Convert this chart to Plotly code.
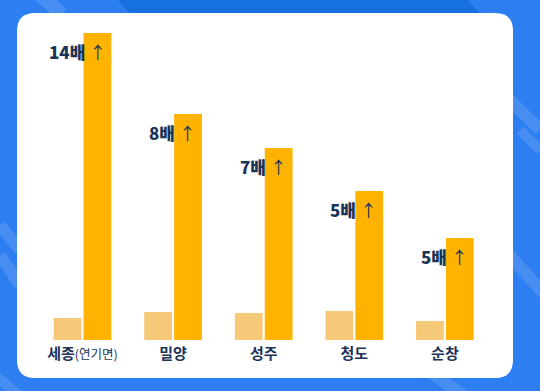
import plotly.graph_objects as go

# ---- data ----
categories = ["세종(연기면)", "밀양", "성주", "청도", "순창"]
tick_labels = [
    "<b>세종</b><span style='font-size:12.5px;font-weight:normal'>(연기면)</span>",
    "<b>밀양</b>", "<b>성주</b>", "<b>청도</b>", "<b>순창</b>",
]
before_values = [22, 28, 27, 29, 19]
after_values = [307, 226, 192, 149, 102]
ratio_numbers = ["14배", "8배", "7배", "5배", "5배"]

W, H = 540, 391
BASE = 340  # baseline pixel row
ML, MR, MT, MB = 0, 0, 0, H - BASE

NAVY = "#1b3458"
ORANGE = "#ffb300"
LIGHT = "#f5c978"

def px(x):
    return x / W

def py(y):
    return (BASE - y) / BASE

def rounded_rect(x0, y0, x1, y1, r):
    return (f"M {px(x0+r)},{py(y0)} L {px(x1-r)},{py(y0)} Q {px(x1)},{py(y0)} {px(x1)},{py(y0+r)} "
            f"L {px(x1)},{py(y1-r)} Q {px(x1)},{py(y1)} {px(x1-r)},{py(y1)} "
            f"L {px(x0+r)},{py(y1)} Q {px(x0)},{py(y1)} {px(x0)},{py(y1-r)} "
            f"L {px(x0)},{py(y0+r)} Q {px(x0)},{py(y0)} {px(x0+r)},{py(y0)} Z")

def poly(points):
    s = "M " + " L ".join(f"{px(x)},{py(y)}" for x, y in points) + " Z"
    return s

fig = go.Figure()
fig.add_trace(go.Bar(x=categories, y=before_values, marker_color=LIGHT,
                     marker_line_width=0, name="before", hoverinfo="skip"))
fig.add_trace(go.Bar(x=categories, y=after_values, marker_color=ORANGE,
                     marker_line_width=0, name="after", hoverinfo="skip"))

shapes = []
# darker top band
shapes.append(dict(type="path", xref="paper", yref="paper", layer="below",
                   path=poly([(118, 0), (468, 0), (482, 16), (132, 16)]),
                   fillcolor="#1671de", line_width=0))
# light diagonal stripes
for (x0, y0, x1, y1, w) in [(40, -5, 62, 14, 14), (505, 95, 540, 130, 12),
                            (520, 130, 540, 150, 10),
                            (505, 250, 545, 295, 12), (0, 225, 20, 250, 12),
                            (0, 255, 20, 285, 12), (430, 372, 470, 400, 12),
                            (-5, 375, 25, 400, 10)]:
    shapes.append(dict(type="line", xref="paper", yref="paper", layer="below",
                       x0=px(x0), y0=py(y0), x1=px(x1), y1=py(y1),
                       line=dict(color="rgba(255,255,255,0.13)", width=w)))
# white panel
shapes.append(dict(type="path", xref="paper", yref="paper", layer="below",
                   path=rounded_rect(17, 13, 513, 378, 18),
                   fillcolor="#ffffff", line_width=0))

annotations = []
for c, v, t in zip(categories, after_values, ratio_numbers):
    annotations.append(dict(x=c, y=v, xref="x", yref="y",
                            text=f"{t} <span style='font-weight:normal'>↑</span>",
                            showarrow=False, xanchor="right", yanchor="middle",
                            xshift=25, yshift=-18,
                            font=dict(family="Noto Sans CJK KR", size=17,
                                      color=NAVY, weight=900)))

cw = 90.6
fig.update_layout(
    width=W, height=H,
    margin=dict(l=ML, r=MR, t=MT, b=MB, pad=0),
    paper_bgcolor="#2d7ef0",
    plot_bgcolor="rgba(0,0,0,0)",
    barmode="group", bargap=0.34, bargroupgap=0.07,
    showlegend=False,
    hovermode=False,
    shapes=shapes,
    annotations=annotations,
    xaxis=dict(range=[-82.5 / cw, (W - 82.5) / cw], showgrid=False, zeroline=False,
               showline=False, ticks="", tickmode="array", tickvals=categories,
               ticktext=tick_labels, ticklabelstandoff=3, fixedrange=True,
               tickfont=dict(family="Noto Sans CJK KR", size=15, color=NAVY)),
    yaxis=dict(range=[0, BASE], visible=False, showgrid=False, zeroline=False,
               fixedrange=True),
    font=dict(family="Noto Sans CJK KR"),
)

fig.write_html("out.html", config={"displayModeBar": False},
               post_script="document.body.style.margin='0';document.body.style.background='#2d7ef0';")
